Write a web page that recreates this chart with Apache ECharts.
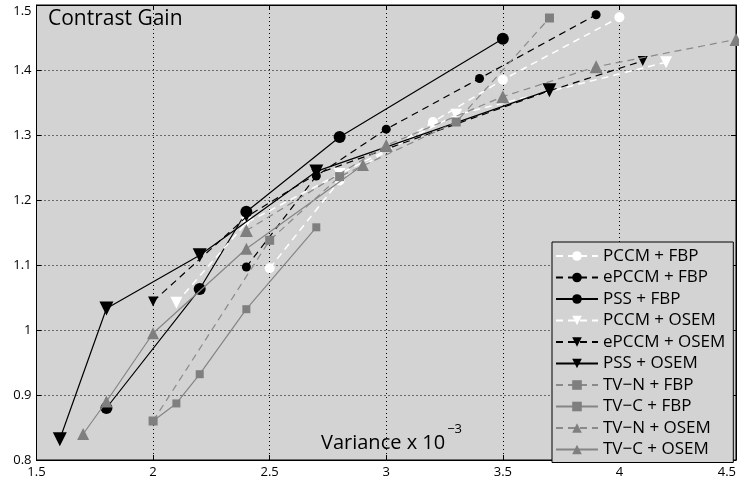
<!DOCTYPE html>
<html>
<head>
<meta charset="utf-8">
<script src="https://cdn.jsdelivr.net/npm/echarts@6/dist/echarts.min.js"></script>
<style>
  html, body { margin: 0; padding: 0; background: #fff; }
  #chart { width: 739px; height: 482px; }
</style>
</head>
<body>
<div id="chart"></div>
<script>
  // variance (x 10^-3) and contrast gain for each method
  const pccmFbpX = [2.5, 2.8, 3.2, 3.5, 4.0];
  const pccmFbpY = [1.095, 1.23, 1.32, 1.385, 1.481];
  const epccmFbpX = [2.4, 2.7, 3.0, 3.4, 3.9];
  const epccmFbpY = [1.097, 1.237, 1.309, 1.387, 1.485];
  const pssFbpX = [1.8, 2.2, 2.4, 2.8, 3.5];
  const pssFbpY = [0.88, 1.063, 1.182, 1.297, 1.448];
  const pccmOsemX = [2.1, 2.4, 2.8, 3.3, 4.2];
  const pccmOsemY = [1.042, 1.165, 1.24, 1.331, 1.412];
  const epccmOsemX = [2.0, 2.4, 2.7, 3.7, 4.1];
  const epccmOsemY = [1.044, 1.174, 1.24, 1.368, 1.414];
  const pssOsemX = [1.6, 1.8, 2.2, 2.7, 3.7];
  const pssOsemY = [0.832, 1.033, 1.115, 1.244, 1.369];
  const tvnFbpX = [2.0, 2.5, 2.8, 3.3, 3.7];
  const tvnFbpY = [0.86, 1.138, 1.236, 1.32, 1.48];
  const tvcFbpX = [2.0, 2.1, 2.2, 2.4, 2.7];
  const tvcFbpY = [0.86, 0.887, 0.932, 1.032, 1.158];
  const tvnOsemX = [2.4, 3.0, 3.5, 3.9, 4.5];
  const tvnOsemY = [1.153, 1.284, 1.359, 1.405, 1.447];
  const tvcOsemX = [1.7, 1.8, 2.0, 2.4, 2.9];
  const tvcOsemY = [0.84, 0.89, 0.995, 1.125, 1.254];

  const seriesNames = [
    'PCCM + FBP', 'ePCCM + FBP', 'PSS + FBP',
    'PCCM + OSEM', 'ePCCM + OSEM', 'PSS + OSEM',
    'TV\u2212N + FBP', 'TV\u2212C + FBP', 'TV\u2212N + OSEM', 'TV\u2212C + OSEM'
  ];

  const pairs = (xs, ys) => xs.map((x, i) => [x, ys[i]]);

  const FONT = '"Open Sans", "Noto Sans", sans-serif';
  const GRAY = '#7f7f7f';
  const DASH = [7, 5];

  const mkSeries = (name, xs, ys, opt) => ({
    name: name,
    type: 'line',
    data: pairs(xs, ys),
    symbol: opt.symbol,
    symbolSize: opt.size,
    symbolRotate: opt.rotate || 0,
    showAllSymbol: true,
    animation: false,
    z: opt.z,
    lineStyle: { color: opt.lineColor, width: opt.width || 1.2, type: opt.dashed ? DASH : 'solid' },
    itemStyle: { color: opt.fill, borderWidth: 0, opacity: 1 },
    emphasis: { disabled: true },
  });

  const chart = echarts.init(document.getElementById('chart'));
  chart.setOption({
    animation: false,
    backgroundColor: '#fff',
    textStyle: { fontFamily: FONT },
    grid: {
      left: 36.5, right: 2.5, top: 5, bottom: 22,
      show: true, backgroundColor: '#d3d3d3', borderColor: '#000', borderWidth: 1,
    },
    xAxis: [{
      type: 'value', min: 1.5, max: 4.5, interval: 0.5,
      axisLine: { show: true, onZero: false, lineStyle: { color: '#000', width: 1 } },
      axisTick: { show: true, inside: true, length: 5, lineStyle: { color: '#000' } },
      axisLabel: { color: '#000', fontSize: 13, fontFamily: FONT, margin: 6, alignMaxLabel: 'right' },
      splitLine: { show: true, lineStyle: { color: '#000', type: [1, 3], width: 1 } },
    }, {
      type: 'value', min: 1.5, max: 4.5, interval: 0.5, position: 'top',
      axisLine: { show: true, onZero: false, lineStyle: { color: '#000', width: 1 } },
      axisTick: { show: true, inside: true, length: 5, lineStyle: { color: '#000' } },
      axisLabel: { show: false },
      splitLine: { show: false },
    }],
    yAxis: [{
      type: 'value', min: 0.8, max: 1.5, interval: 0.1,
      axisLine: { show: true, onZero: false, lineStyle: { color: '#000', width: 1 } },
      axisTick: { show: true, inside: true, length: 5, lineStyle: { color: '#000' } },
      axisLabel: {
        color: '#000', fontSize: 13, fontFamily: FONT, margin: 5,
        verticalAlignMaxLabel: 'top',
        formatter: v => String(Math.round(v * 10) / 10),
      },
      splitLine: { show: true, lineStyle: { color: '#000', type: [1, 3], width: 1 } },
    }, {
      type: 'value', min: 0.8, max: 1.5, interval: 0.1, position: 'right',
      axisLine: { show: true, onZero: false, lineStyle: { color: '#000', width: 1 } },
      axisTick: { show: true, inside: true, length: 5, lineStyle: { color: '#000' } },
      axisLabel: { show: false },
      splitLine: { show: false },
    }],
    legend: {
      orient: 'vertical',
      left: 552, top: 242,
      padding: [5, 8, 4, 3],
      itemGap: 3.5,
      itemWidth: 42, itemHeight: 12,
      backgroundColor: '#d3d3d3',
      borderColor: '#000', borderWidth: 1, borderRadius: 0,
      textStyle: { color: '#000', fontSize: 17, fontFamily: FONT, lineHeight: 18 },
      data: seriesNames,
    },
    graphic: [{
      type: 'text', left: 48, top: 9,
      style: { text: 'Contrast Gain', fontSize: 21, fontFamily: FONT, fill: '#000' },
    }, {
      type: 'text', left: 321, top: 423,
      style: {
        text: '{a|Variance x 10}{b|\u22123}',
        fontFamily: FONT, fill: '#000',
        rich: {
          a: { fontSize: 20, lineHeight: 30, verticalAlign: 'bottom', fontFamily: FONT },
          b: { fontSize: 13, lineHeight: 30, verticalAlign: 'top', padding: [0, 0, 0, 2], fontFamily: FONT },
        },
      },
    }],
    series: [
      mkSeries(seriesNames[0], pccmFbpX, pccmFbpY, { symbol: 'circle', size: 10, fill: '#fff', lineColor: '#fff', dashed: true, width: 1.5, z: 2 }),
      mkSeries(seriesNames[1], epccmFbpX, epccmFbpY, { symbol: 'circle', size: 9, fill: '#000', lineColor: '#000', dashed: true, z: 3 }),
      mkSeries(seriesNames[2], pssFbpX, pssFbpY, { symbol: 'circle', size: 12, fill: '#000', lineColor: '#000', z: 4 }),
      mkSeries(seriesNames[3], pccmOsemX, pccmOsemY, { symbol: 'triangle', rotate: 180, size: 12, fill: '#fff', lineColor: '#fff', dashed: true, width: 1.5, z: 5 }),
      mkSeries(seriesNames[4], epccmOsemX, epccmOsemY, { symbol: 'triangle', rotate: 180, size: 10, fill: '#000', lineColor: '#000', dashed: true, z: 6 }),
      mkSeries(seriesNames[5], pssOsemX, pssOsemY, { symbol: 'triangle', rotate: 180, size: 14, fill: '#000', lineColor: '#000', z: 7 }),
      mkSeries(seriesNames[6], tvnFbpX, tvnFbpY, { symbol: 'rect', size: 9, fill: GRAY, lineColor: '#8a8a8a', dashed: true, z: 8 }),
      mkSeries(seriesNames[7], tvcFbpX, tvcFbpY, { symbol: 'rect', size: 8, fill: GRAY, lineColor: '#858585', z: 9 }),
      mkSeries(seriesNames[8], tvnOsemX, tvnOsemY, { symbol: 'triangle', size: 13, fill: GRAY, lineColor: '#8a8a8a', dashed: true, z: 10 }),
      mkSeries(seriesNames[9], tvcOsemX, tvcOsemY, { symbol: 'triangle', size: 12, fill: GRAY, lineColor: '#858585', z: 11 }),
    ],
  });
</script>
</body>
</html>
